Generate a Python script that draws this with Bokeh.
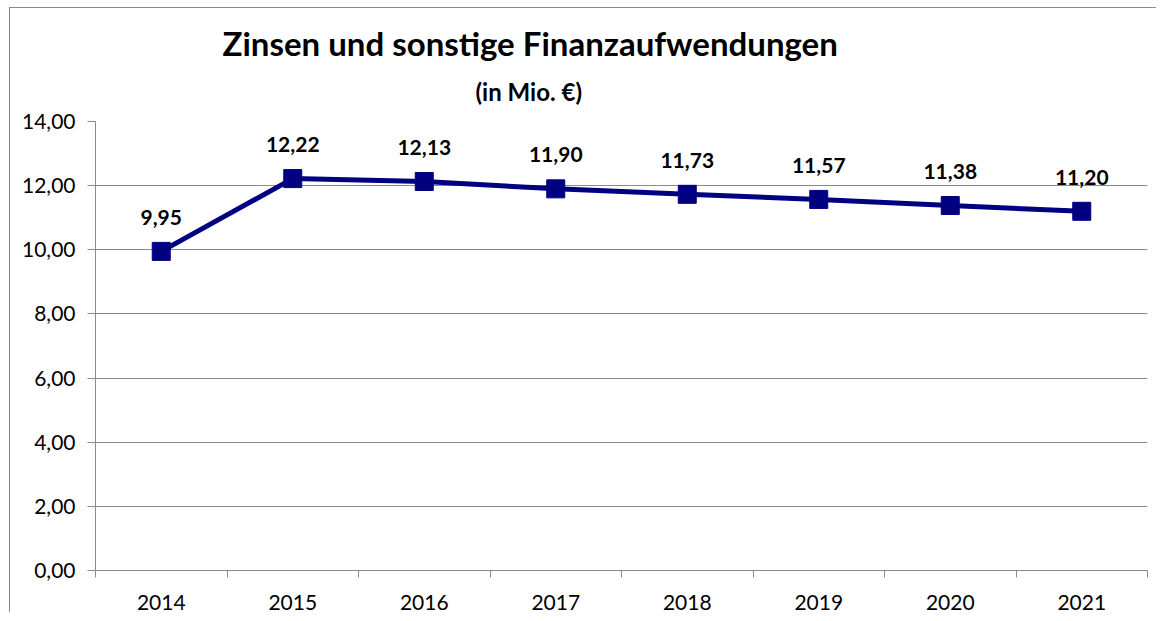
from bokeh.plotting import figure
from bokeh.models import Range1d, FixedTicker, Title, ColumnDataSource
from bokeh.core.properties import value
from bokeh.embed import file_html
from bokeh.resources import INLINE

years = ["2014", "2015", "2016", "2017", "2018", "2019", "2020", "2021"]
values = [9.95, 12.22, 12.13, 11.90, 11.73, 11.57, 11.38, 11.20]
y_ticks = [0, 2, 4, 6, 8, 10, 12, 14]
y_tick_labels = ["0,00", "2,00", "4,00", "6,00", "8,00", "10,00", "12,00", "14,00"]
title_text = "Zinsen und sonstige Finanzaufwendungen"
subtitle_text = "(in Mio. €)"

FONT = "Lato"
GRID = "#8a8a8a"
NAVY = "#000080"

xs = [i + 0.5 for i in range(len(years))]
labels = [f"{v:.2f}".replace(".", ",") for v in values]
src = ColumnDataSource(dict(x=xs, y=values, lab=labels))

p = figure(width=1147, height=605, output_backend="svg", toolbar_location=None,
           x_range=Range1d(0, len(years)), y_range=Range1d(0, 14),
           min_border_left=85, min_border_right=10, min_border_top=113, min_border_bottom=43)
p.margin = (7, 0, 0, 9)
p.styles = {"border-left": "1px solid #8a8a8a", "border-top": "1px solid #8a8a8a"}
p.outline_line_color = None
p.background_fill_color = "white"
p.border_fill_color = "white"

p.title.text = title_text
p.title.align = "left"
p.title.offset = 127
p.title.text_font = FONT
p.title.text_font_style = "bold"
p.title.text_font_size = "33px"
p.title.text_color = "black"
p.title.standoff = -6
p.add_layout(Title(text=subtitle_text, align="left", offset=380, text_font=FONT,
                   text_font_style="bold", text_font_size="24px", text_color="black",
                   standoff=31), "above")

# y axis
p.yaxis.ticker = FixedTicker(ticks=y_ticks)
p.yaxis.major_label_overrides = {t: s for t, s in zip(y_ticks, y_tick_labels)}
p.yaxis.axis_line_color = GRID
p.yaxis.major_tick_line_color = GRID
p.yaxis.major_tick_out = 8
p.yaxis.major_tick_in = 0
p.yaxis.minor_tick_line_color = None
p.yaxis.major_label_text_font = FONT
p.yaxis.major_label_text_font_size = "21px"
p.yaxis.major_label_text_color = "black"
p.yaxis.major_label_standoff = 12

# x axis
p.xaxis.ticker = FixedTicker(ticks=xs, minor_ticks=list(range(len(years) + 1)))
p.xaxis.major_label_overrides = {x: y for x, y in zip(xs, years)}
p.xaxis.axis_line_color = GRID
p.xaxis.major_tick_line_color = None
p.xaxis.major_tick_out = 0
p.xaxis.major_tick_in = 0
p.xaxis.minor_tick_line_color = GRID
p.xaxis.minor_tick_out = 7
p.xaxis.minor_tick_in = 0
p.xaxis.major_label_text_font = FONT
p.xaxis.major_label_text_font_size = "21px"
p.xaxis.major_label_text_color = "black"
p.xaxis.major_label_standoff = 17

p.xgrid.grid_line_color = None
p.ygrid.ticker = FixedTicker(ticks=y_ticks)
p.ygrid.grid_line_color = GRID
p.ygrid.grid_line_width = 1

p.line("x", "y", source=src, line_color=NAVY, line_width=5)
p.scatter("x", "y", source=src, marker="square", size=18, fill_color=NAVY, line_color=NAVY)
p.text("x", "y", text="lab", source=src, text_font=value(FONT), text_font_style="bold",
       text_font_size="21px", text_align="center", text_baseline="middle",
       y_offset=-34, text_color="black")

open("out.html", "w").write(file_html(p, INLINE))
